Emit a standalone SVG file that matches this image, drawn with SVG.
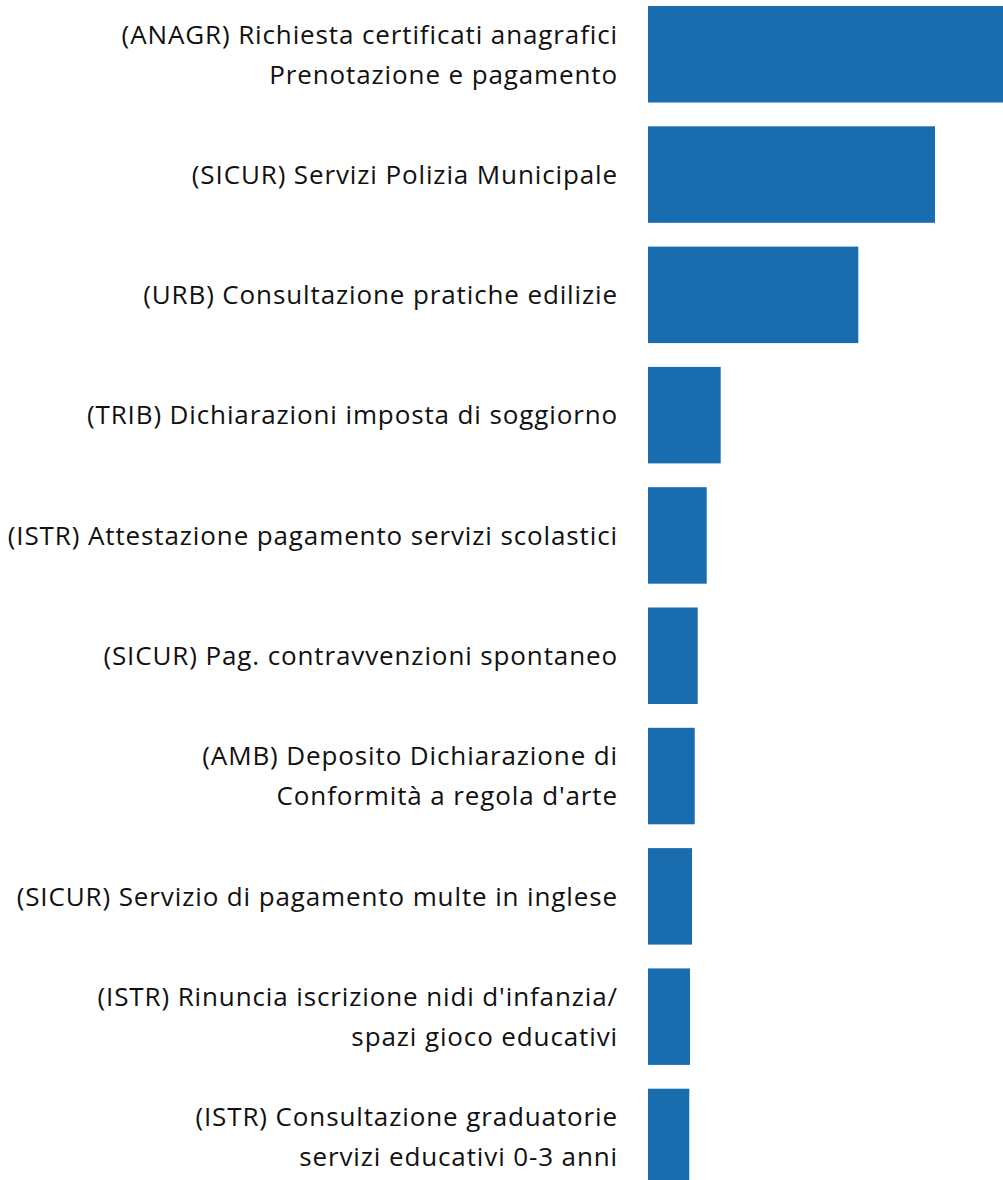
<svg xmlns="http://www.w3.org/2000/svg" width="1003" height="1180" viewBox="0 0 1003 1180">
<style>
.bar{fill:#196dae}
.lbl{font-family:"Open Sans","Noto Sans",sans-serif;font-size:26px;letter-spacing:0.88px;fill:#111;text-anchor:end}
</style>
<rect width="1003" height="1180" fill="#fff"/>
<g id="bars">
<rect id="b1" class="bar" x="648" y="6" width="355" height="96.5"/>
<rect id="b2" class="bar" x="648" y="126.3" width="287" height="96.5"/>
<rect id="b3" class="bar" x="648" y="246.6" width="210.3" height="96.5"/>
<rect id="b4" class="bar" x="648" y="366.9" width="72.7" height="96.5"/>
<rect id="b5" class="bar" x="648" y="487.2" width="58.7" height="96.5"/>
<rect id="b6" class="bar" x="648" y="607.5" width="49.7" height="96.5"/>
<rect id="b7" class="bar" x="648" y="727.8" width="46.7" height="96.5"/>
<rect id="b8" class="bar" x="648" y="848.1" width="44" height="96.5"/>
<rect id="b9" class="bar" x="648" y="968.4" width="42" height="96.5"/>
<rect id="b10" class="bar" x="648" y="1088.7" width="41.3" height="96.5"/>
</g>
<g id="labels">
<text class="lbl" x="618" y="44">(ANAGR) Richiesta certificati anagrafici</text>
<text class="lbl" x="618" y="84">Prenotazione e pagamento</text>
<text class="lbl" x="618" y="184">(SICUR) Servizi Polizia Municipale</text>
<text class="lbl" x="618" y="304">(URB) Consultazione pratiche edilizie</text>
<text class="lbl" x="618" y="424">(TRIB) Dichiarazioni imposta di soggiorno</text>
<text class="lbl" x="618" y="545">(ISTR) Attestazione pagamento servizi scolastici</text>
<text class="lbl" x="618" y="665">(SICUR) Pag. contravvenzioni spontaneo</text>
<text class="lbl" x="618" y="765">(AMB) Deposito Dichiarazione di</text>
<text class="lbl" x="618" y="805">Conformità a regola d'arte</text>
<text class="lbl" x="618" y="906">(SICUR) Servizio di pagamento multe in inglese</text>
<text class="lbl" x="618" y="1006">(ISTR) Rinuncia iscrizione nidi d'infanzia/</text>
<text class="lbl" x="618" y="1046">spazi gioco educativi</text>
<text class="lbl" x="618" y="1126">(ISTR) Consultazione graduatorie</text>
<text class="lbl" x="618" y="1166">servizi educativi 0-3 anni</text>
</g>
</svg>
